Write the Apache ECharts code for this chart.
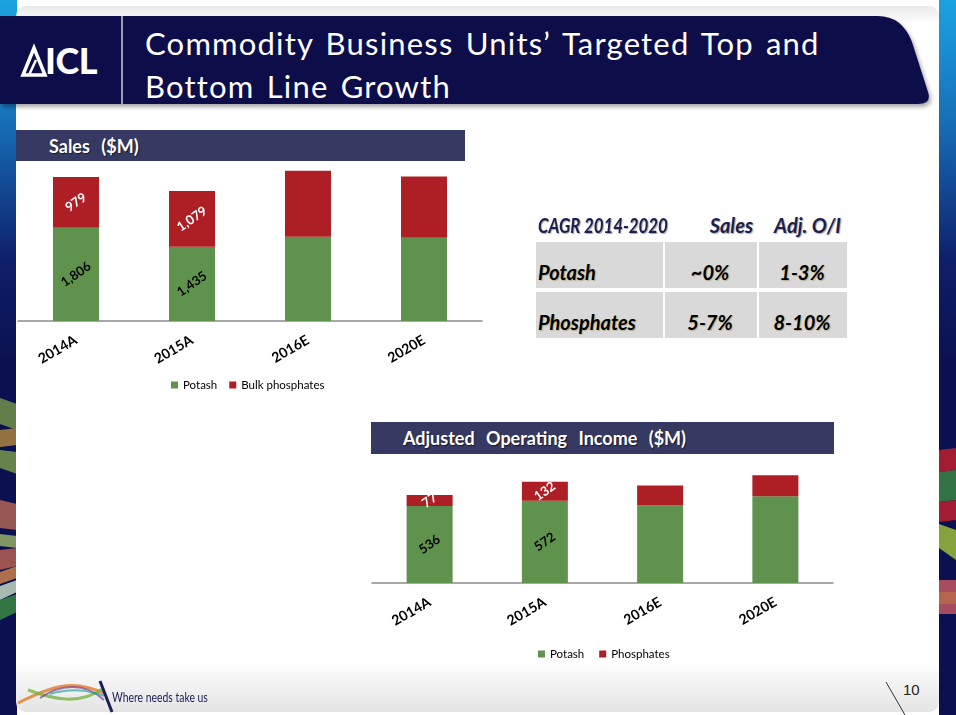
<!DOCTYPE html>
<html>
<head>
<meta charset="utf-8">
<script src="https://cdn.jsdelivr.net/npm/echarts@6/dist/echarts.min.js"></script>
<style>
  html, body { margin: 0; padding: 0; }
  body { width: 956px; height: 715px; position: relative; overflow: hidden; background: #fff; font-family: Lato, "Open Sans", sans-serif; }
  .strip { position: absolute; top: 0; width: 17px; height: 715px;
    background: linear-gradient(to bottom, #1ba3df 0px, #1670b8 120px, #0e1f6a 260px, #0b1150 360px, #0b1150 715px); }
  .strip.l { left: 0; }
  .strip.r { right: 0; }
  .panel { position: absolute; left: 16px; top: 6px; width: 923px; height: 706px; border-radius: 10px;
    background: linear-gradient(to bottom, #e9e9e9 0px, #fff 18px, #fff 655px, #e4e4e4 706px); }
  .band { position: absolute; left: 0; top: 0; }
  .title { position: absolute; left: 145px; top: 22px; color: #fff; font-size: 31px; line-height: 43px; font-family: Lato, sans-serif; letter-spacing: 1.2px; word-spacing: 3px; white-space: nowrap; }
  .logo { position: absolute; left: 45px; top: 42px; color: #fff; font: 900 36px/36px Lato, sans-serif; letter-spacing: -0.5px; }
  .hdr { position: absolute; background: #363a63; color: #fff; font-weight: bold; font-size: 18px; word-spacing: 7px; box-sizing: border-box;
    text-shadow: 1px 1px 1px rgba(0,0,0,0.6); display: flex; align-items: center; white-space: nowrap; }
  table.cagr { position: absolute; left: 534px; top: 207px; border-collapse: separate; border-spacing: 2px 4px; table-layout: fixed; width: 315px;
    font-style: italic; font-weight: bold; color: #000; font-family: Lato, sans-serif; white-space: nowrap; }
  table.cagr td { padding: 0 4px 4px 2px; vertical-align: bottom; overflow: visible; }
  table.cagr tr.head td { color: #1c1f4f; height: 26px; font-size: 20px; padding-bottom: 1px; text-shadow: 1px 1px 1px rgba(0,0,0,0.35); }
  table.cagr tr.head span { display: inline-block; transform: scaleX(0.84); transform-origin: left; }
  table.cagr tr.row td { background: #d9d9d9; height: 42px; font-size: 20px; text-shadow: 1px 1px 1px rgba(120,90,0,0.35); }
  .foot { position: absolute; left: 112px; top: 689px; font: 13px Lato, sans-serif; color: #1c1f55; transform: scaleX(0.8); transform-origin: left; white-space: nowrap; }
  .pnum { position: absolute; left: 903px; top: 681px; font: 15px "Liberation Sans", Arial, sans-serif; color: #222; }
  #chart { position: absolute; left: 0; top: 0; width: 956px; height: 715px; }
</style>
</head>
<body>
<div class="strip l"></div>
<div class="strip r"></div>
<svg style="position:absolute;left:0;top:0" width="956" height="715">
  <!-- coloured ribbons on the side strips -->
  <g opacity="0.8">
    <polygon points="0,398 17,404 17,430 0,424" fill="#7a9a4a"/>
    <polygon points="0,430 17,428 17,445 0,447" fill="#b58a3d"/>
    <polygon points="0,450 17,452 17,474 0,468" fill="#7fa04a"/>
    <polygon points="0,500 17,504 17,530 0,528" fill="#b86a55"/>
    <polygon points="0,534 17,536 17,548 0,546" fill="#9fb86a"/>
    <polygon points="0,550 17,548 17,566 0,570" fill="#c0644f"/>
    <polygon points="0,572 17,566 17,578 0,584" fill="#d58a4c"/>
    <polygon points="0,586 17,580 17,592 0,600" fill="#cfe3c9"/>
    <polygon points="0,600 17,594 17,612 0,620" fill="#3e8f43"/>
    <polygon points="939,450 956,448 956,470 939,472" fill="#c8202c"/>
    <polygon points="939,472 956,470 956,500 939,502" fill="#3c8d41"/>
    <polygon points="939,502 956,500 956,520 939,522" fill="#c8202c"/>
    <polygon points="939,524 956,530 956,560 939,548" fill="#a6c83a"/>
    <polygon points="939,580 956,580 956,592 939,592" fill="#cf5a63"/>
    <polygon points="939,592 956,592 956,604 939,604" fill="#e07b4e"/>
    <polygon points="939,604 956,604 956,614 939,614" fill="#cf5a63"/>
  </g>
</svg>
<div class="panel"></div>
<svg class="band" width="956" height="715">
  <defs>
    <filter id="sh" x="-5%" y="-20%" width="110%" height="150%">
      <feDropShadow dx="2" dy="3" stdDeviation="2" flood-color="#000" flood-opacity="0.35"/>
    </filter>
  </defs>
  <path d="M0,16 L878,16 Q902,16 912,42 L928,92 Q932,104 918,104 L0,104 Z" fill="#0b0f4a" filter="url(#sh)"/>
  <line x1="122" y1="16" x2="122" y2="104" stroke="#fff" stroke-width="1.2"/>
  <!-- ICL mark -->
  <polygon points="23,75 34,48 45,75" fill="none" stroke="#fff" stroke-width="3.5"/>
  <line x1="29" y1="75" x2="36" y2="60" stroke="#fff" stroke-width="2.5"/>
  <!-- footer swoosh and divider -->
  <path d="M18,703 C45,690 70,676 105,694" stroke="#e57a2a" stroke-width="3" fill="none" opacity="0.8"/>
  <path d="M28,690 C55,700 80,705 104,688" stroke="#7cb342" stroke-width="3" fill="none" opacity="0.8"/>
  <path d="M40,698 C60,684 85,682 104,700" stroke="#7b3f8c" stroke-width="2" fill="none" opacity="0.7"/>
  <path d="M50,694 C70,688 90,690 104,696" stroke="#2aa6a0" stroke-width="2" fill="none" opacity="0.7"/>
  <line x1="100" y1="681" x2="112" y2="712" stroke="#1c1f55" stroke-width="3"/>
  <line x1="886" y1="682" x2="905" y2="715" stroke="#333" stroke-width="1"/>
</svg>
<div class="logo">ICL</div>
<div class="title">Commodity Business Units’ Targeted Top and<br>Bottom Line Growth</div>

<div class="hdr" style="left:16px;top:130px;width:449px;height:31px;padding-left:33px;">Sales ($M)</div>
<div class="hdr" style="left:371px;top:422px;width:463px;height:32px;padding-left:32px;">Adjusted Operating Income ($M)</div>

<table class="cagr">
  <colgroup><col style="width:127px"><col style="width:92px"><col style="width:88px"></colgroup>
  <tr class="head"><td><span>CAGR 2014-2020</span></td><td style="text-align:right">Sales</td><td style="text-align:right;padding-right:6px">Adj. O/I</td></tr>
  <tr class="row"><td>Potash</td><td style="text-align:center">~0%</td><td style="text-align:center">1-3%</td></tr>
  <tr class="row"><td>Phosphates</td><td style="text-align:center">5-7%</td><td style="text-align:center">8-10%</td></tr>
</table>

<div class="foot">Where needs take us</div>
<div class="pnum">10</div>

<div id="chart"></div>
<script>
// categories and values
const years = ['2014A', '2015A', '2016E', '2020E'];
const labelledYears = ['2014A', '2015A'];
const salesPotash = [1806, 1435, 1630, 1610];
const salesBulkPhosphates = [979, 1079, 1280, 1185];
const incomePotash = [536, 572, 540, 603];
const incomePhosphates = [77, 132, 139, 146];

const GREEN = '#5f934d';
const RED = '#ad1e25';
const FONT = 'Lato, "Open Sans", sans-serif';

function barLabel(color) {
  return {
    show: true,
    position: 'inside',
    rotate: 35,
    color: color,
    fontWeight: 'bold',
    fontSize: 13,
    fontFamily: FONT,
    formatter: p => labelledYears.includes(p.name) ? p.value.toLocaleString('en-US') : ''
  };
}

function catAxis(gridIndex) {
  return {
    type: 'category',
    gridIndex: gridIndex,
    data: years,
    axisTick: { show: false },
    axisLine: { lineStyle: { color: '#8c8c8c', width: 1.5 } },
    axisLabel: { rotate: 30, margin: 18, color: '#000', fontWeight: 'bold', fontSize: 14, fontFamily: FONT }
  };
}

function valAxis(gridIndex, max) {
  return { type: 'value', gridIndex: gridIndex, min: 0, max: max, show: false, splitLine: { show: false } };
}

const chart = echarts.init(document.getElementById('chart'));
chart.setOption({
  animation: false,
  textStyle: { fontFamily: FONT },
  grid: [
    { left: 18, top: 166, width: 464, height: 155 },
    { left: 372, top: 468, width: 461, height: 115 }
  ],
  xAxis: [catAxis(0), catAxis(1)],
  yAxis: [valAxis(0, 3000), valAxis(1, 800)],
  legend: [
    {
      left: 166, top: 374, icon: 'rect', itemWidth: 7, itemHeight: 7, itemGap: 12,
      textStyle: { fontSize: 11.5, color: '#000', fontFamily: FONT },
      data: ['Potash', 'Bulk phosphates']
    },
    {
      left: 533, top: 643, icon: 'rect', itemWidth: 7, itemHeight: 7, itemGap: 12,
      textStyle: { fontSize: 11.5, color: '#000', fontFamily: FONT },
      data: ['Potash ', 'Phosphates']
    }
  ],
  series: [
    { name: 'Potash', type: 'bar', stack: 's', xAxisIndex: 0, yAxisIndex: 0, barWidth: 46,
      itemStyle: { color: GREEN }, label: barLabel('#000'), data: salesPotash },
    { name: 'Bulk phosphates', type: 'bar', stack: 's', xAxisIndex: 0, yAxisIndex: 0, barWidth: 46,
      itemStyle: { color: RED }, label: barLabel('#fff'), data: salesBulkPhosphates },
    { name: 'Potash ', type: 'bar', stack: 'i', xAxisIndex: 1, yAxisIndex: 1, barWidth: 46,
      itemStyle: { color: GREEN }, label: barLabel('#000'), data: incomePotash },
    { name: 'Phosphates', type: 'bar', stack: 'i', xAxisIndex: 1, yAxisIndex: 1, barWidth: 46,
      itemStyle: { color: RED }, label: barLabel('#fff'), data: incomePhosphates }
  ]
});
</script>
</body>
</html>
